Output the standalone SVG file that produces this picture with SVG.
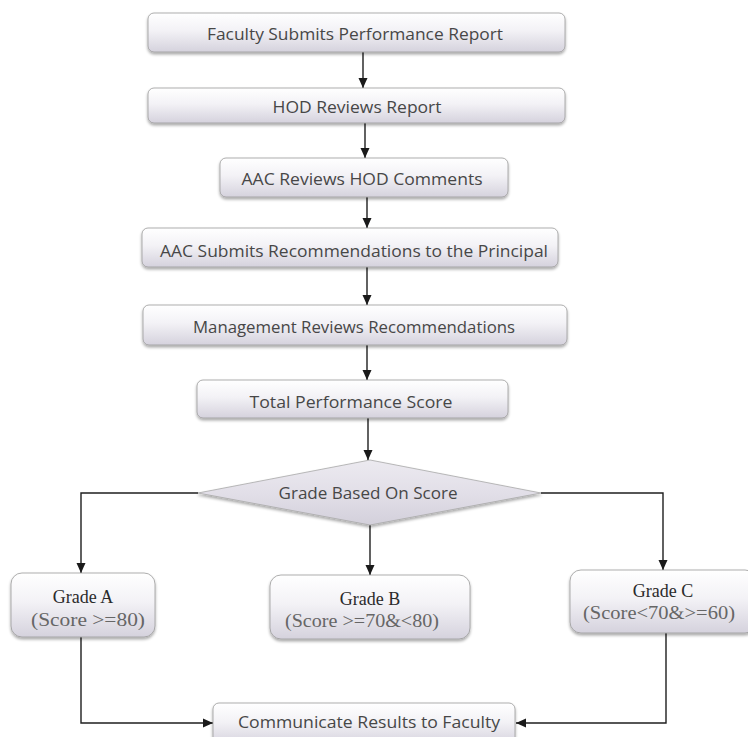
<svg xmlns="http://www.w3.org/2000/svg" width="748" height="737" viewBox="0 0 748 737">
<defs>
<linearGradient id="g" x1="0" y1="0" x2="0" y2="1">
<stop offset="0" stop-color="#ffffff"/>
<stop offset="0.45" stop-color="#f3f2f6"/>
<stop offset="1" stop-color="#d5d2dd"/>
</linearGradient>
<linearGradient id="gd" x1="0" y1="0" x2="0" y2="1">
<stop offset="0" stop-color="#eceaf0"/>
<stop offset="0.5" stop-color="#e2dfe8"/>
<stop offset="1" stop-color="#d3d0db"/>
</linearGradient>
<filter id="sh" x="-5%" y="-20%" width="110%" height="150%">
<feGaussianBlur in="SourceAlpha" stdDeviation="1.5"/>
<feOffset dx="0" dy="2" result="b"/>
<feComponentTransfer><feFuncA type="linear" slope="0.35"/></feComponentTransfer>
<feMerge><feMergeNode/><feMergeNode in="SourceGraphic"/></feMerge>
</filter>
<marker id="ah" markerUnits="userSpaceOnUse" markerWidth="10" markerHeight="10" viewBox="0 0 10 10" refX="10" refY="5" orient="auto">
<path d="M0,0.5 L10,5 L0,9.5 Z" fill="#1a1a1a"/>
</marker>
</defs>
<style>
.box{fill:url(#g);stroke:#9a9a9a;stroke-width:0.8;filter:url(#sh)}
.dia{fill:url(#gd);stroke:#a8a8a8;stroke-width:0.8;filter:url(#sh)}
.t{font-family:"Open Sans","Liberation Sans",sans-serif;font-size:16px;fill:#474747;text-anchor:middle}
.gt{font-family:"Liberation Serif","Times New Roman",serif;font-size:18px;fill:#2b2b2b;text-anchor:middle}
.gs{font-family:"Liberation Serif","Times New Roman",serif;font-size:18px;fill:#666;text-anchor:middle}
.c{fill:none;stroke:#1f1f1f;stroke-width:1.4;marker-end:url(#ah)}
</style>
<rect width="748" height="737" fill="#ffffff"/>
<g id="connectors">
<path class="c" d="M363,52 V88"/>
<path class="c" d="M365,123 V158"/>
<path class="c" d="M367,197 V228"/>
<path class="c" d="M367,267 V305"/>
<path class="c" d="M367,345 V380"/>
<path class="c" d="M368,418 V460"/>
<path class="c" d="M198,493 H81 V573"/>
<path class="c" d="M370,525 V575"/>
<path class="c" d="M541,493 H663 V570"/>
<path class="c" d="M81,637 V723 H213"/>
<path class="c" d="M666,633 V723 H516"/>
</g>
<g id="n1"><rect class="box" x="148" y="13" width="417" height="39" rx="6"/><text class="t" x="355" y="40" textLength="296" lengthAdjust="spacingAndGlyphs">Faculty Submits Performance Report</text></g>
<g id="n2"><rect class="box" x="148" y="88" width="417" height="35" rx="6"/><text class="t" x="357" y="113" textLength="169" lengthAdjust="spacingAndGlyphs">HOD Reviews Report</text></g>
<g id="n3"><rect class="box" x="220" y="158" width="288" height="39" rx="6"/><text class="t" x="362" y="185" textLength="241" lengthAdjust="spacingAndGlyphs">AAC Reviews HOD Comments</text></g>
<g id="n4"><rect class="box" x="142" y="228" width="416" height="39" rx="6"/><text class="t" x="354" y="257" textLength="388" lengthAdjust="spacingAndGlyphs">AAC Submits Recommendations to the Principal</text></g>
<g id="n5"><rect class="box" x="143" y="305" width="424" height="40" rx="6"/><text class="t" x="354" y="333" textLength="322" lengthAdjust="spacingAndGlyphs">Management Reviews Recommendations</text></g>
<g id="n6"><rect class="box" x="197" y="380" width="311" height="38" rx="6"/><text class="t" x="351" y="408" textLength="203" lengthAdjust="spacingAndGlyphs">Total Performance Score</text></g>
<g id="n7"><path class="dia" d="M370,460 L541,493 L370,525 L198,493 Z"/><text class="t" x="368" y="499" textLength="179" lengthAdjust="spacingAndGlyphs">Grade Based On Score</text></g>
<g id="n8"><rect class="box" x="11" y="573" width="144" height="64" rx="11"/><text class="gt" x="83" y="603">Grade A</text><text class="gs" x="88" y="626" textLength="114" lengthAdjust="spacingAndGlyphs">(Score &gt;=80)</text></g>
<g id="n9"><rect class="box" x="270" y="575" width="200" height="64" rx="11"/><text class="gt" x="370" y="605">Grade B</text><text class="gs" x="362" y="627" textLength="154" lengthAdjust="spacingAndGlyphs">(Score &gt;=70&amp;&lt;80)</text></g>
<g id="n10"><rect class="box" x="570" y="570" width="186" height="63" rx="11"/><text class="gt" x="663" y="597">Grade C</text><text class="gs" x="659" y="619" textLength="152" lengthAdjust="spacingAndGlyphs">(Score&lt;70&amp;&gt;=60)</text></g>
<g id="n11"><rect class="box" x="213" y="703" width="302" height="42" rx="6"/><text class="t" x="369" y="728" textLength="262" lengthAdjust="spacingAndGlyphs">Communicate Results to Faculty</text></g>
</svg>
